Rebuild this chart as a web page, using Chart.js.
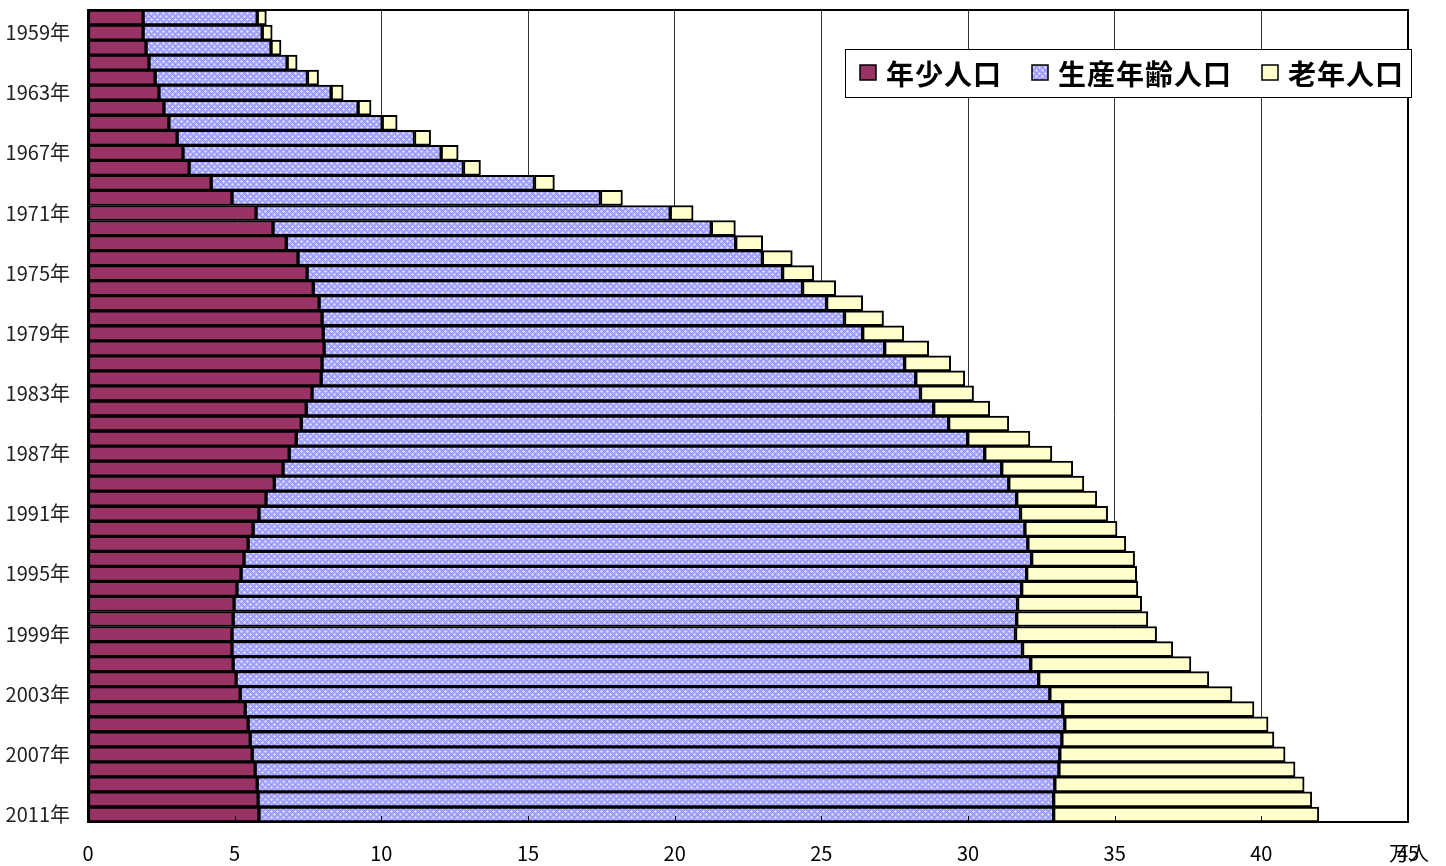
<!DOCTYPE html>
<html lang="ja">
<head>
<meta charset="utf-8">
<title>年齢3区分別人口の推移</title>
<script src="https://cdn.jsdelivr.net/npm/chart.js@4.4.0/dist/chart.umd.min.js"></script>
<style>
  html, body { margin: 0; padding: 0; background: #fff; }
  canvas { display: block; }
</style>
</head>
<body>
<canvas id="myChart" width="1446" height="866"></canvas>
<script>
// datos (万人)
const years = [1958, 1959, 1960, 1961, 1962, 1963, 1964, 1965, 1966, 1967, 1968,
  1969, 1970, 1971, 1972, 1973, 1974, 1975, 1976, 1977, 1978,
  1979, 1980, 1981, 1982, 1983, 1984, 1985, 1986, 1987, 1988,
  1989, 1990, 1991, 1992, 1993, 1994, 1995, 1996, 1997, 1998,
  1999, 2000, 2001, 2002, 2003, 2004, 2005, 2006, 2007, 2008,
  2009, 2010, 2011];
const nenshou = [1.88, 1.88, 1.98, 2.08, 2.29, 2.42, 2.59, 2.76, 3.04, 3.24, 3.45,
  4.20, 4.91, 5.73, 6.31, 6.76, 7.16, 7.47, 7.68, 7.88, 7.98,
  8.02, 8.05, 7.98, 7.95, 7.64, 7.44, 7.27, 7.10, 6.86, 6.65,
  6.35, 6.07, 5.83, 5.63, 5.46, 5.32, 5.22, 5.08, 4.98, 4.95,
  4.91, 4.91, 4.95, 5.05, 5.19, 5.36, 5.46, 5.53, 5.60, 5.70,
  5.77, 5.80, 5.83];
const seisan = [3.89, 4.06, 4.26, 4.71, 5.19, 5.87, 6.62, 7.27, 8.09, 8.80, 9.35,
  11.02, 12.56, 14.12, 14.94, 15.32, 15.83, 16.21, 16.68, 17.30, 17.81,
  18.39, 19.11, 19.86, 20.27, 20.74, 21.39, 22.07, 22.89, 23.71, 24.50,
  25.04, 25.59, 25.96, 26.31, 26.58, 26.85, 26.78, 26.75, 26.71, 26.71,
  26.71, 26.95, 27.19, 27.36, 27.60, 27.87, 27.84, 27.67, 27.53, 27.40,
  27.19, 27.12, 27.09];
const rounen = [0.31, 0.34, 0.34, 0.34, 0.38, 0.41, 0.44, 0.51, 0.55, 0.58, 0.58,
  0.68, 0.75, 0.78, 0.82, 0.92, 1.02, 1.06, 1.13, 1.23, 1.33,
  1.40, 1.50, 1.57, 1.67, 1.81, 1.91, 2.05, 2.12, 2.29, 2.42,
  2.56, 2.73, 2.97, 3.14, 3.34, 3.51, 3.75, 3.96, 4.23, 4.47,
  4.81, 5.12, 5.46, 5.80, 6.21, 6.52, 6.93, 7.23, 7.68, 8.05,
  8.50, 8.80, 9.04];
const seriesNames = ['年少人口', '生産年齢人口', '老年人口'];
const unitLabel = '万人';

const fontFamily = "'Noto Sans CJK JP', 'Noto Sans', sans-serif";
const chartDOM = document.getElementById('myChart');
const ctxMain = chartDOM.getContext('2d');

// trama azul del grupo de edad productiva
function makePattern() {
  const tile = document.createElement('canvas');
  tile.width = 6;
  tile.height = 6;
  const c = tile.getContext('2d');
  c.fillStyle = '#a3a3ff';
  c.fillRect(0, 0, 6, 6);
  c.fillStyle = '#d6d6ff';
  [[1, 0], [0, 1], [1, 1], [2, 1], [1, 2], [4, 3], [3, 4], [4, 4], [5, 4], [4, 5]]
    .forEach(([x, y]) => c.fillRect(x, y, 1, 1));
  c.fillStyle = '#8a8aff';
  [[4, 0], [1, 4]].forEach(([x, y]) => c.fillRect(x, y, 1, 1));
  return ctxMain.createPattern(tile, 'repeat');
}
const bluePattern = makePattern();
const colores = ['#993366', bluePattern, '#ffffcc'];

const marcoYLeyenda = {
  id: 'marcoYLeyenda',
  afterDatasetsDraw(chart) {
    const { ctx, chartArea: a, scales: { x } } = chart;
    ctx.save();
    // marcas interiores en el eje x
    ctx.strokeStyle = '#000';
    ctx.lineWidth = 1;
    x.ticks.forEach(t => {
      const px = Math.round(x.getPixelForValue(t.value)) + 0.5;
      ctx.beginPath();
      ctx.moveTo(px, a.bottom - 6);
      ctx.lineTo(px, a.bottom);
      ctx.stroke();
    });
    ctx.lineWidth = 2;
    ctx.strokeRect(a.left, a.top, a.right - a.left, a.bottom - a.top);
    ctx.restore();
  },
  afterDraw(chart) {
    const { ctx, chartArea: a, scales: { x } } = chart;
    ctx.save();
    // leyenda
    ctx.fillStyle = '#fff';
    ctx.fillRect(845, 49, 566, 48);
    ctx.strokeStyle = '#000';
    ctx.lineWidth = 1;
    ctx.strokeRect(845.5, 49.5, 566, 48);
    ctx.font = 'bold 28px ' + fontFamily;
    if ('letterSpacing' in ctx) ctx.letterSpacing = '1px';
    ctx.textBaseline = 'middle';
    ctx.textAlign = 'left';
    let lx = 860;
    seriesNames.forEach((name, i) => {
      ctx.fillStyle = colores[i];
      ctx.fillRect(lx, 65, 16, 15);
      ctx.strokeStyle = '#000';
      ctx.lineWidth = 1.5;
      ctx.strokeRect(lx, 65, 16, 15);
      ctx.fillStyle = '#000';
      ctx.fillText(name, lx + 26, 74);
      lx += 26 + ctx.measureText(name).width + 30;
    });
    if ('letterSpacing' in ctx) ctx.letterSpacing = '0px';
    // unidad
    ctx.font = '20px ' + fontFamily;
    ctx.textAlign = 'center';
    ctx.fillStyle = '#000';
    ctx.fillText(unitLabel, x.getPixelForValue(45) + 1, a.bottom + 31);
    ctx.restore();
  }
};

const config = {
  type: 'bar',
  data: {
    labels: years,
    datasets: [
      { label: seriesNames[0], data: nenshou, backgroundColor: colores[0] },
      { label: seriesNames[1], data: seisan, backgroundColor: colores[1] },
      { label: seriesNames[2], data: rounen, backgroundColor: colores[2] }
    ].map(d => Object.assign(d, {
      borderColor: '#000',
      borderWidth: 2,
      borderSkipped: false,
      barPercentage: 1,
      categoryPercentage: 1
    }))
  },
  options: {
    indexAxis: 'y',
    responsive: false,
    animation: false,
    layout: { padding: { top: 10, right: 38, left: 0, bottom: 0 } },
    plugins: {
      legend: { display: false },
      tooltip: { enabled: false }
    },
    scales: {
      x: {
        stacked: true,
        min: 0,
        max: 45,
        afterFit: s => { s.height = 44; s.paddingLeft = 0; s.paddingRight = 0; },
        grid: { color: '#333', lineWidth: 1, drawTicks: false },
        border: { display: true, color: '#000', width: 2 },
        ticks: {
          stepSize: 5,
          padding: 19,
          color: '#000',
          font: { family: fontFamily, size: 20 }
        }
      },
      y: {
        stacked: true,
        afterFit: s => { s.width = 88; s.paddingTop = 0; s.paddingBottom = 0; },
        grid: { display: false, drawTicks: false },
        border: { display: true, color: '#000', width: 2 },
        ticks: {
          autoSkip: false,
          padding: 18,
          color: '#222',
          font: { family: fontFamily, size: 20 },
          callback: function (value, index) {
            const y = years[index];
            return (y - 1959) % 4 === 0 ? y + '年' : '';
          }
        }
      }
    }
  },
  plugins: [marcoYLeyenda]
};

let chart = new Chart(chartDOM, config);
</script>
</body>
</html>
